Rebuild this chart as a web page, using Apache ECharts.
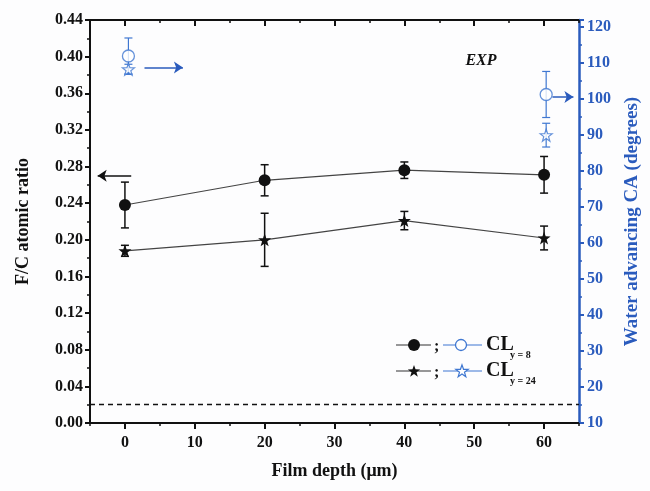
<!DOCTYPE html>
<html>
<head>
<meta charset="utf-8">
<script src="https://cdn.jsdelivr.net/npm/echarts@6/dist/echarts.min.js"></script>
<style>
  html, body { margin: 0; padding: 0; background: #fdfdfe; }
  #container { width: 650px; height: 491px; }
</style>
</head>
<body>
<div id="container"></div>
<script>
var dom = document.getElementById("container");
var myChart = echarts.init(dom);

// film depth (um)
var depth = [0, 20, 40, 60];
var depthTicks = [0, 10, 20, 30, 40, 50, 60];
var depthMinorTicks = [-5, 5, 15, 25, 35, 45, 55, 65];
// F/C atomic ratio, CL y=8 and y=24
var fc8 = [0.238, 0.265, 0.276, 0.271];
var fc8Err = [0.025, 0.017, 0.009, 0.020];
var fc24 = [0.188, 0.200, 0.221, 0.202];
var fc24Err = [0.006, 0.029, 0.010, 0.013];
// water advancing CA (degrees)
var caDepth = [0.5, 60.3];
var ca8 = [112, 101.3];
var ca8Err = [5, 6.4];
var ca24 = [108.3, 90];
var ca24Err = [1.4, 3.3];
// reference line and pointer arrows
var fcBaseline = 0.02;
var fcArrow = [[0.9, 0.27], [-3.9, 0.27]];
var caArrows = [[[2.8, 108.8], [8.3, 108.8]], [[61.2, 100.6], [64.2, 100.6]]];

var BLACK = '#111';
var BLUE = '#3f77d1';
var BLUE_AXIS = '#2a5bbd';
var FONT = '"Liberation Serif", "Times New Roman", serif';
var STAR_PTS = [[50, 0], [61.76, 33.82], [97.55, 34.55], [69.02, 56.18], [79.39, 90.45],
    [50, 70], [20.61, 90.45], [30.98, 56.18], [2.45, 34.55], [38.24, 33.82]];
var STAR = 'path://M' + STAR_PTS.map(function (p) { return p.join(','); }).join(' L') + ' Z';

function starPolygon(cx, cy, size) {
    return STAR_PTS.map(function (p) {
        return [cx + (p[0] - 50) / 100 * size, cy + (p[1] - 47) / 100 * size];
    });
}

function errData(xs, ys, es) {
    return xs.map(function (x, i) { return [x, ys[i], ys[i] - es[i], ys[i] + es[i]]; });
}

function errRender(color, lw) {
    return function (params, api) {
        var x = api.value(0);
        var top = api.coord([x, api.value(3)]);
        var bot = api.coord([x, api.value(2)]);
        var w = 4;
        var st = { stroke: color, lineWidth: lw };
        return {
            type: 'group',
            children: [
                { type: 'line', shape: { x1: top[0], y1: top[1], x2: bot[0], y2: bot[1] }, style: st },
                { type: 'line', shape: { x1: top[0] - w, y1: top[1], x2: top[0] + w, y2: top[1] }, style: st },
                { type: 'line', shape: { x1: bot[0] - w, y1: bot[1], x2: bot[0] + w, y2: bot[1] }, style: st }
            ]
        };
    };
}

function arrowLine(pts) {
    return [{ coord: pts[0] }, { coord: pts[1] }];
}

var tickFont = { fontFamily: FONT, fontWeight: 'bold', fontSize: 16, color: BLACK };

// x axis: bottom/top with major ticks, plus overlay axes for the minor ticks
function depthAxis(pos, inside, major, withLine) {
    return {
        type: 'value', position: pos, min: -5, max: 65, interval: 5,
        axisLine: { show: withLine, onZero: false, lineStyle: { color: BLACK, width: 2 } },
        axisTick: { inside: inside, length: major ? 6 : 3, customValues: major ? depthTicks : depthMinorTicks,
            lineStyle: { color: BLACK, width: major ? 2 : 1.5 } },
        splitLine: { show: false },
        axisLabel: { show: false }
    };
}

var xBottom = depthAxis('bottom', false, true, true);
xBottom.name = 'Film depth (\u03bcm)';
xBottom.nameLocation = 'middle';
xBottom.nameGap = 39;
xBottom.nameTextStyle = { fontFamily: FONT, fontWeight: 'bold', fontSize: 18, color: BLACK };
xBottom.axisLabel = Object.assign({ show: true, margin: 12, customValues: depthTicks }, tickFont);

var option = {
    backgroundColor: '#fdfdfe',
    animation: false,
    grid: { left: 90, right: 71, top: 20, bottom: 68 },
    xAxis: [
        xBottom,
        depthAxis('top', true, true, true),
        depthAxis('bottom', false, false, false),
        depthAxis('top', true, false, false)
    ],
    yAxis: [
        {
            type: 'value', position: 'left', min: 0, max: 0.44, interval: 0.04,
            name: 'F/C atomic ratio', nameLocation: 'middle', nameGap: 58, nameRotate: 90,
            nameTextStyle: { fontFamily: FONT, fontWeight: 'bold', fontSize: 18, color: BLACK },
            axisLine: { show: true, onZero: false, lineStyle: { color: BLACK, width: 2 } },
            axisTick: { show: true, length: 5, lineStyle: { color: BLACK, width: 2 } },
            minorTick: { show: true, splitNumber: 2, length: 3, lineStyle: { color: BLACK, width: 1.5 } },
            splitLine: { show: false },
            axisLabel: Object.assign({ margin: 7, formatter: function (v) { return v.toFixed(2); } }, tickFont)
        },
        {
            type: 'value', position: 'right', min: 10, max: 122, interval: 10,
            name: 'Water advancing CA (degrees)', nameLocation: 'middle', nameGap: 44, nameRotate: 90,
            nameTextStyle: { fontFamily: FONT, fontWeight: 'bold', fontSize: 19, color: BLUE_AXIS },
            axisLine: { show: true, onZero: false, lineStyle: { color: BLUE_AXIS, width: 2.5 } },
            axisTick: { show: true, length: 5, lineStyle: { color: BLUE_AXIS, width: 2 } },
            minorTick: { show: true, splitNumber: 2, length: 3, lineStyle: { color: BLUE_AXIS, width: 1.5 } },
            splitLine: { show: false },
            axisLabel: { margin: 8, showMaxLabel: false, fontFamily: FONT, fontWeight: 'bold', fontSize: 16, color: BLUE_AXIS }
        }
    ],
    graphic: [
        { type: 'text', x: 481, y: 61, style: { text: 'EXP', fontFamily: FONT, fontWeight: 'bold', fontStyle: 'italic', fontSize: 16, fill: BLACK, align: 'center', verticalAlign: 'middle' } },
        // legend row 1
        { type: 'line', shape: { x1: 396, y1: 345, x2: 431, y2: 345 }, style: { stroke: '#333', lineWidth: 1.2 } },
        { type: 'circle', shape: { cx: 414, cy: 345, r: 6 }, style: { fill: BLACK } },
        { type: 'text', x: 434, y: 347, style: { text: ';', fontFamily: FONT, fontWeight: 'bold', fontSize: 16, fill: BLACK, verticalAlign: 'middle' } },
        { type: 'line', shape: { x1: 443, y1: 345, x2: 482, y2: 345 }, style: { stroke: BLUE, lineWidth: 1.2 } },
        { type: 'circle', shape: { cx: 461, cy: 345, r: 5.5 }, style: { fill: '#fff', stroke: BLUE, lineWidth: 1.3 } },
        { type: 'text', x: 486, y: 345, style: { text: 'CL', fontFamily: FONT, fontWeight: 'bold', fontSize: 20, fill: BLACK, verticalAlign: 'middle' } },
        { type: 'text', x: 510, y: 355, style: { text: 'y = 8', fontFamily: FONT, fontWeight: 'bold', fontSize: 10, fill: BLACK, verticalAlign: 'middle' } },
        // legend row 2
        { type: 'line', shape: { x1: 396, y1: 371, x2: 431, y2: 371 }, style: { stroke: '#333', lineWidth: 1.2 } },
        { type: 'polygon', shape: { points: starPolygon(414, 371, 13) }, style: { fill: BLACK } },
        { type: 'text', x: 434, y: 373, style: { text: ';', fontFamily: FONT, fontWeight: 'bold', fontSize: 16, fill: BLACK, verticalAlign: 'middle' } },
        { type: 'line', shape: { x1: 443, y1: 371, x2: 482, y2: 371 }, style: { stroke: BLUE, lineWidth: 1.2 } },
        { type: 'polygon', shape: { points: starPolygon(462, 371, 13) }, style: { fill: '#fff', stroke: BLUE, lineWidth: 1.2 } },
        { type: 'text', x: 486, y: 371, style: { text: 'CL', fontFamily: FONT, fontWeight: 'bold', fontSize: 20, fill: BLACK, verticalAlign: 'middle' } },
        { type: 'text', x: 510, y: 381, style: { text: 'y = 24', fontFamily: FONT, fontWeight: 'bold', fontSize: 10, fill: BLACK, verticalAlign: 'middle' } }
    ],
    series: [
        {
            type: 'custom', xAxisIndex: 0, yAxisIndex: 0, z: 2, silent: true,
            renderItem: errRender(BLACK, 1.5), data: errData(depth, fc8, fc8Err)
        },
        {
            type: 'custom', xAxisIndex: 0, yAxisIndex: 0, z: 2, silent: true,
            renderItem: errRender(BLACK, 1.5), data: errData(depth, fc24, fc24Err)
        },
        {
            type: 'custom', xAxisIndex: 0, yAxisIndex: 1, z: 2, silent: true,
            renderItem: errRender(BLUE, 1.2), data: errData(caDepth, ca8, ca8Err)
        },
        {
            type: 'custom', xAxisIndex: 0, yAxisIndex: 1, z: 2, silent: true,
            renderItem: errRender(BLUE, 1.2), data: errData(caDepth, ca24, ca24Err)
        },
        {
            name: 'F/C CL y=8', type: 'line', xAxisIndex: 0, yAxisIndex: 0, z: 3,
            data: depth.map(function (d, i) { return [d, fc8[i]]; }),
            symbol: 'circle', symbolSize: 12,
            itemStyle: { color: BLACK },
            lineStyle: { color: '#444', width: 1.2 },
            markLine: {
                silent: true, symbol: ['none', 'arrow'], symbolSize: 9,
                label: { show: false },
                lineStyle: { color: BLACK, width: 1.5, type: 'solid' },
                data: [arrowLine(fcArrow)]
            }
        },
        {
            name: 'F/C CL y=24', type: 'line', xAxisIndex: 0, yAxisIndex: 0, z: 3,
            data: depth.map(function (d, i) { return [d, fc24[i]]; }),
            symbol: STAR, symbolSize: 13,
            itemStyle: { color: BLACK },
            lineStyle: { color: '#444', width: 1.2 },
            markLine: {
                silent: true, symbol: ['none', 'none'],
                label: { show: false },
                lineStyle: { color: BLACK, width: 1.3, type: [5, 4] },
                data: [{ yAxis: fcBaseline }]
            }
        },
        {
            name: 'CA CL y=8', type: 'scatter', xAxisIndex: 0, yAxisIndex: 1, z: 3,
            data: caDepth.map(function (d, i) { return [d, ca8[i]]; }),
            symbol: 'circle', symbolSize: 12,
            itemStyle: { color: '#fff', borderColor: BLUE, borderWidth: 1.3 },
            markLine: {
                silent: true, symbol: ['none', 'arrow'], symbolSize: 9,
                label: { show: false },
                lineStyle: { color: BLUE_AXIS, width: 1.5, type: 'solid' },
                data: caArrows.map(arrowLine)
            }
        },
        {
            name: 'CA CL y=24', type: 'scatter', xAxisIndex: 0, yAxisIndex: 1, z: 3,
            data: caDepth.map(function (d, i) { return [d, ca24[i]]; }),
            symbol: STAR, symbolSize: 12,
            itemStyle: { color: '#fff', borderColor: BLUE, borderWidth: 1.2 }
        }
    ]
};

myChart.setOption(option);

window.addEventListener('resize', function () {
    myChart.resize();
});
</script>
</body>
</html>
